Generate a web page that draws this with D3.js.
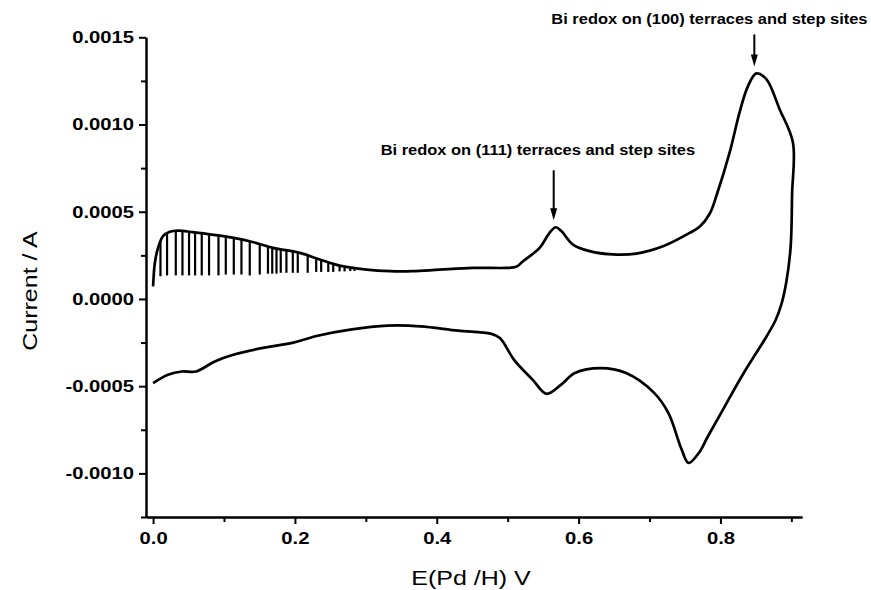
<!DOCTYPE html>
<html>
<head>
<meta charset="utf-8">
<script src="https://cdn.jsdelivr.net/npm/d3@7"></script>
<style>
  html, body { margin: 0; padding: 0; background: #fff; }
  svg { display: block; }
  text { font-family: Arial, "Liberation Sans", Helvetica, sans-serif; fill: #000; }
</style>
</head>
<body>
<svg id="chart" width="871" height="590"></svg>
<script>
// Forward (anodic) sweep: potential (V vs Pd/H) and current (A)
const anodicE = [0.000, 0.0025, 0.007, 0.014, 0.0235, 0.035, 0.056, 0.099, 0.136, 0.169,
  0.207, 0.235, 0.263, 0.301, 0.334, 0.366, 0.404, 0.451, 0.498, 0.512,
  0.5216, 0.545, 0.559, 0.5677, 0.5757, 0.592, 0.6156, 0.648, 0.6814, 0.719,
  0.7566, 0.771, 0.785, 0.795, 0.813, 0.827, 0.8388, 0.8506, 0.8647, 0.8834, 0.9022];
const anodicI = [0.000072, 0.000207, 0.000293, 0.000360, 0.000385, 0.000392, 0.000383, 0.000360, 0.000331, 0.000293,
  0.000264, 0.000226, 0.000191, 0.000168, 0.000159, 0.000159, 0.000168, 0.000178, 0.000178, 0.000184,
  0.000216, 0.000293, 0.000379, 0.000411, 0.000389, 0.000312, 0.000274, 0.000255, 0.000260, 0.000302,
  0.000379, 0.000415, 0.000490, 0.000600, 0.000840, 0.001070, 0.001220, 0.001293, 0.001260, 0.001088, 0.000897];

// Reverse (cathodic) sweep, from the switching potential back to 0 V
const cathodicE = [0.901, 0.899, 0.893, 0.886, 0.878, 0.865, 0.832, 0.800, 0.782, 0.770,
  0.755, 0.745, 0.7267, 0.7068, 0.667, 0.631, 0.5947, 0.575, 0.555, 0.5354,
  0.509, 0.489, 0.476, 0.430, 0.377, 0.331, 0.278, 0.232, 0.199, 0.153,
  0.113, 0.087, 0.0605, 0.0406, 0.0209, 0.000];
const cathodicI = [0.000600, 0.000300, 0.000100, -0.000030, -0.000119, -0.000215, -0.000430, -0.000660, -0.000790, -0.000880,
  -0.000940, -0.000860, -0.000655, -0.000540, -0.000425, -0.000397, -0.000425, -0.000493, -0.000544, -0.000464,
  -0.000349, -0.000224, -0.000199, -0.000182, -0.000157, -0.000153, -0.000176, -0.000211, -0.000249, -0.000282,
  -0.000320, -0.000358, -0.000416, -0.000416, -0.000435, -0.000483];

// Current oscillations on the forward sweep: spike potential, top and bottom current
const spikeE = [0.0104, 0.0197, 0.032, 0.0414, 0.0507, 0.0592, 0.0686, 0.0789, 0.0922, 0.1025,
  0.1138, 0.1246, 0.1363, 0.1504, 0.162, 0.168, 0.174, 0.180, 0.188, 0.197,
  0.204, 0.218, 0.230, 0.237, 0.247, 0.254, 0.263, 0.270, 0.278, 0.284];
const spikeTop = [0.000330, 0.000375, 0.000390, 0.000390, 0.000385, 0.000380, 0.000375, 0.000370, 0.000363, 0.000357,
  0.000350, 0.000340, 0.000330, 0.000315, 0.000302, 0.000295, 0.000290, 0.000285, 0.000278, 0.000270,
  0.000265, 0.000252, 0.000230, 0.000222, 0.000210, 0.000202, 0.000190, 0.000182, 0.000175, 0.000170];
const spikeLow = [0.000130, 0.000135, 0.000135, 0.000135, 0.000135, 0.000135, 0.000135, 0.000135, 0.000135, 0.000140,
  0.000140, 0.000140, 0.000135, 0.000140, 0.000145, 0.000145, 0.000145, 0.000150, 0.000150, 0.000150,
  0.000150, 0.000150, 0.000155, 0.000155, 0.000155, 0.000155, 0.000158, 0.000158, 0.000160, 0.000160];

// Axis ticks
const xMajorTicks = [0.0, 0.2, 0.4, 0.6, 0.8];
const xMinorTicks = [0.1, 0.3, 0.5, 0.7, 0.9];
const yMajorTicks = [-0.0010, -0.0005, 0.0000, 0.0005, 0.0010, 0.0015];
const yMinorTicks = [-0.00125, -0.00075, -0.00025, 0.00025, 0.00075, 0.00125];

// Peak annotations
const annotText = ["Bi redox on (100) terraces and step sites", "Bi redox on (111) terraces and step sites"];
const annotE = [0.8506, 0.5677];
const annotI = [0.001293, 0.000411];

const svg = d3.select("#chart");
const x = d3.scaleLinear().domain([-0.01, 0.915]).range([146, 802]);
const y = d3.scaleLinear().domain([-0.00125, 0.0015]).range([517, 37.3]);
const WIDE = 1.19;   // horizontal widening of the lettering

// Axes
const fmtX = d3.format(".1f");
const fmtY = d3.format(".4f");
svg.append("g").attr("transform", `translate(0,${y.range()[0]})`)
  .call(d3.axisBottom(x).tickValues(xMinorTicks).tickSize(5).tickSizeOuter(0).tickFormat(""));
const xMajor = svg.append("g").attr("transform", `translate(0,${y.range()[0]})`)
  .call(d3.axisBottom(x).tickValues(xMajorTicks).tickSize(7).tickSizeOuter(0).tickPadding(8).tickFormat(fmtX));
svg.append("g").attr("transform", `translate(${x.range()[0]},0)`)
  .call(d3.axisLeft(y).tickValues(yMinorTicks).tickSize(5).tickSizeOuter(0).tickFormat(""));
const yMajor = svg.append("g").attr("transform", `translate(${x.range()[0]},0)`)
  .call(d3.axisLeft(y).tickValues(yMajorTicks).tickSize(7).tickSizeOuter(0)
    .tickFormat(d => d === 0 ? "0.0000" : fmtY(d).replace("−", "-")));

svg.selectAll(".domain").attr("stroke", "#000").attr("stroke-width", 2);
svg.selectAll(".tick line").attr("stroke", "#000").attr("stroke-width", 2);
svg.selectAll(".tick text").attr("font-family", "Arial, 'Liberation Sans', sans-serif")
  .attr("font-weight", "bold").attr("font-size", 17).attr("fill", "#000")
  .attr("transform", `scale(${WIDE},1)`);
xMajor.selectAll(".tick text").attr("dy", "0.71em");
yMajor.selectAll(".tick text").attr("x", -12 / WIDE);

// Axis titles
svg.append("text").attr("transform", `translate(471,585) scale(${WIDE},1)`).attr("text-anchor", "middle")
  .attr("font-size", 21).text("E(Pd /H) V");
svg.append("text").attr("transform", `translate(37,291) rotate(-90) scale(${WIDE},1)`).attr("text-anchor", "middle")
  .attr("font-size", 21).text("Current / A");

// Voltammogram
const cv = anodicE.map((e, i) => [e, anodicI[i]])
  .concat(cathodicE.map((e, i) => [e, cathodicI[i]]));
const line = d3.line().x(d => x(d[0])).y(d => y(d[1])).curve(d3.curveCatmullRom.alpha(0.5));
svg.append("path").datum(cv).attr("d", line)
  .attr("fill", "none").attr("stroke", "#000").attr("stroke-width", 2.7).attr("stroke-linejoin", "round");

// Oscillation spikes
svg.append("g").selectAll("line").data(spikeE).join("line")
  .attr("x1", d => x(d)).attr("x2", d => x(d))
  .attr("y1", (d, i) => y(spikeTop[i])).attr("y2", (d, i) => y(spikeLow[i]))
  .attr("stroke", "#000").attr("stroke-width", 2.2);

// Annotations with arrows
const annotLen = [32, 50];      // arrow shaft length
const annotGap = [10, 15];      // gap between arrow tail and label baseline
const annotDx = [-203, -173];   // label left edge relative to arrow
const annotWide = 1.175;
const ann = svg.append("g");
annotText.forEach((t, i) => {
  const px = x(annotE[i]) - 2, tipY = y(annotI[i]) - 7;
  ann.append("line").attr("x1", px).attr("x2", px)
    .attr("y1", tipY - annotLen[i]).attr("y2", tipY - 8)
    .attr("stroke", "#000").attr("stroke-width", 2);
  ann.append("path")
    .attr("d", `M${px - 3.5},${tipY - 12} L${px + 3.5},${tipY - 12} L${px},${tipY} Z`)
    .attr("fill", "#000");
  ann.append("text")
    .attr("transform", `translate(${px + annotDx[i]},${tipY - annotLen[i] - annotGap[i]}) scale(${annotWide},1)`)
    .attr("font-size", 14).attr("font-weight", "bold").text(t);
});
</script>
</body>
</html>
